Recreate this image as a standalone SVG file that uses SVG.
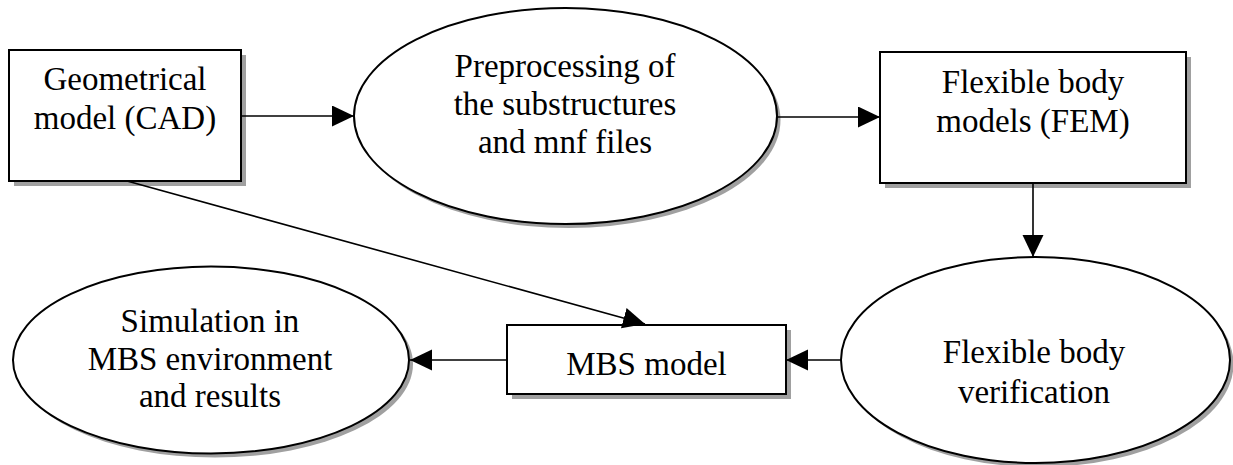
<svg xmlns="http://www.w3.org/2000/svg" width="1233" height="465" viewBox="0 0 1233 465">
<style>
.node{fill:#fff;stroke:#000;stroke-width:2}
.shadow{fill:#a0a0a0;stroke:none}
.conn{stroke:#000;stroke-width:1.6;fill:none;marker-end:url(#ah)}
</style>
<defs>
<marker id="ah" markerUnits="userSpaceOnUse" markerWidth="23" markerHeight="22" refX="22" refY="10.5" orient="auto">
<path d="M0,0 L22,10.5 L0,21 z" fill="#000"/>
</marker>
</defs>
<rect width="1233" height="465" fill="#fff"/>
<g font-family="Liberation Serif, serif" font-size="33" text-anchor="middle" fill="#000">
<g id="n-geometrical">
<rect class="shadow" x="14" y="55" width="232" height="131"/>
<rect class="node" x="9" y="50" width="232" height="131"/>
<text x="125" y="90">Geometrical</text>
<text x="125" y="129">model (CAD)</text>
</g>
<g id="n-preprocessing">
<ellipse class="shadow" cx="569" cy="120" rx="211.5" ry="108"/>
<ellipse class="node" cx="565.5" cy="116" rx="211.5" ry="108"/>
<text x="565" y="77">Preprocessing of</text>
<text x="565" y="115">the substructures</text>
<text x="565" y="153">and mnf files</text>
</g>
<g id="n-flexible-models">
<rect class="shadow" x="885" y="57" width="306" height="131"/>
<rect class="node" x="880" y="52" width="306" height="131"/>
<text x="1033" y="93">Flexible body</text>
<text x="1033" y="132">models (FEM)</text>
</g>
<g id="n-verification">
<ellipse class="shadow" cx="1039" cy="364" rx="194.5" ry="103"/>
<ellipse class="node" cx="1035.5" cy="360" rx="194.5" ry="103"/>
<text x="1034" y="363">Flexible body</text>
<text x="1034" y="403">verification</text>
</g>
<g id="n-mbs-model">
<rect class="shadow" x="512" y="330" width="279" height="69"/>
<rect class="node" x="507" y="325" width="279" height="69"/>
<text x="646.5" y="375">MBS model</text>
</g>
<g id="n-simulation">
<ellipse class="shadow" cx="215" cy="364" rx="198" ry="93.5"/>
<ellipse class="node" cx="211" cy="360" rx="198" ry="93.5"/>
<text x="210" y="332">Simulation in</text>
<text x="210" y="370">MBS environment</text>
<text x="210" y="407">and results</text>
</g>
</g>
<g id="connectors">
<line class="conn" x1="241" y1="116" x2="354" y2="116"/>
<line class="conn" x1="777" y1="117" x2="880" y2="117"/>
<line class="conn" x1="1033" y1="183" x2="1033" y2="257"/>
<line class="conn" x1="841" y1="360" x2="786" y2="360"/>
<line class="conn" x1="507" y1="360" x2="410" y2="360"/>
<line class="conn" x1="127" y1="181" x2="645" y2="324"/>
</g>
</svg>
